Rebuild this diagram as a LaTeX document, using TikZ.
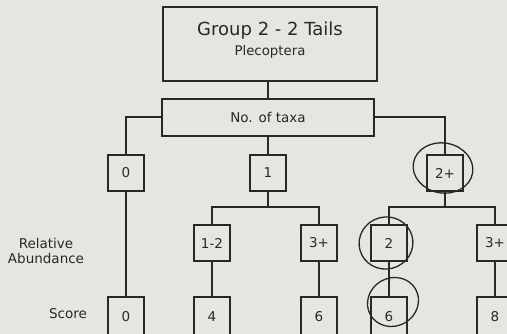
\documentclass[tikz,border=0pt]{standalone}
\usepackage{fontspec}
\setmainfont{DejaVu Sans}
\definecolor{bg}{RGB}{229,229,226}
\definecolor{ink}{RGB}{40,40,40}
\tikzset{
  box/.style={draw=ink, line width=2pt, inner sep=0pt, text=ink, font=\fontsize{13.5}{15}\selectfont},
  sq/.style={box, minimum width=36pt, minimum height=36pt},
  conn/.style={draw=ink, line width=2pt},
  lbl/.style={inner sep=0pt, text=ink, align=center, font=\fontsize{13.5}{15}\selectfont},
  ringmark/.style={draw=ink, line width=1.3pt}
}
\begin{document}
\begin{tikzpicture}[x=1pt,y=1pt]
\useasboundingbox (0,0) rectangle (507,334);
\fill[bg] (0,0) rectangle (507,334);
\clip (0,0) rectangle (507,334);
% main boxes
\node[box, minimum width=214pt, minimum height=74pt] (top) at (270,290) {};
\node[lbl, font=\fontsize{18}{20}\selectfont] (title) at (270,303) {Group 2 - 2 Tails};
\node[lbl, font=\fontsize{13.3}{15}\selectfont] (sub) at (270,282) {Plecoptera};
\node[box, minimum width=212pt, minimum height=37pt] (taxa) at (268,216.5) {No. of taxa};
% row 1
\node[sq] (b0) at (126,161) {0};
\node[sq] (b1) at (268,161) {1};
\node[sq] (b2p) at (445,161) {2+};
% junctions
\coordinate (j1) at (268,127);
\coordinate (j2) at (445,127);
% row 2
\node[sq] (b12) at (212,91) {1-2};
\node[sq] (b3a) at (319,91) {3+};
\node[sq] (b2) at (389,91) {2};
\node[sq] (b3b) at (495,91) {3+};
% row 3
\node[sq, minimum height=40pt] (s0) at (126,17) {0};
\node[sq, minimum height=40pt] (s4) at (212,17) {4};
\node[sq, minimum height=40pt] (s6a) at (319,17) {6};
\node[sq, minimum height=40pt] (s6b) at (389,17) {6};
\node[sq, minimum height=40pt] (s8) at (495,17) {8};
% labels
\node[lbl] (ra) at (46,83) {Relative\\Abundance};
\node[lbl] (sc) at (68,20) {Score};
% connectors
\draw[conn] (top.south -| taxa.north) -- (taxa.north);
\draw[conn] (taxa.west) -| (b0.north);
\draw[conn] (taxa.east) -| (b2p.north);
\draw[conn] (b1.north |- taxa.south) -- (b1.north);
\draw[conn] (b1.south) -- (j1);
\draw[conn] (b12.north) -- (b12.north |- j1) -- (b3a.north |- j1) -- (b3a.north);
\draw[conn] (b2p.south) -- (j2);
\draw[conn] (b2.north) -- (b2.north |- j2) -- (b3b.north |- j2) -- (b3b.north);
\draw[conn] (b0.south) -- (s0.north);
\draw[conn] (b12.south) -- (s4.north);
\draw[conn] (b3a.south) -- (s6a.north);
\draw[conn] (b2.south) -- (s6b.north);
\draw[conn] (b3b.south) -- (s8.north);
% hand-drawn circles
\draw[ringmark, rotate around={-10:(443,166)}] (443,166) ellipse [x radius=30, y radius=25];
\draw[ringmark, rotate around={15:(386,91)}] (386,91) ellipse [x radius=27, y radius=26];
\draw[ringmark, rotate around={30:(393,32)}] (393,32) ellipse [x radius=26, y radius=24];
\end{tikzpicture}
\end{document}
